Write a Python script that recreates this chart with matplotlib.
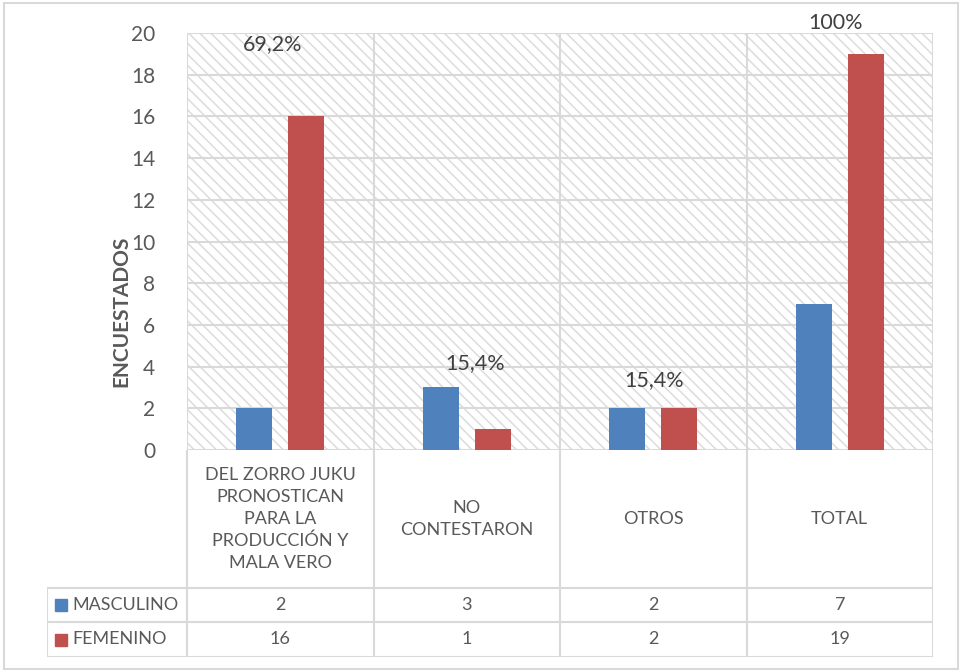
import matplotlib
matplotlib.use("Agg")
import matplotlib.pyplot as plt
from matplotlib.patches import Rectangle
from matplotlib.lines import Line2D

categories = ["DEL ZORRO JUKU\nPRONOSTICAN\nPARA LA\nPRODUCCIÓN Y\nMALA VERO",
              "NO\nCONTESTARON", "OTROS", "TOTAL"]
series_names = ["MASCULINO", "FEMENINO"]
masculino = [2, 3, 2, 7]
femenino = [16, 1, 2, 19]
pct_labels = ["69,2%", "15,4%", "15,4%", "100%"]
pct_y = [19.45, 4.15, 3.36, 20.5]
pct_dx = [-0.04, 0.044, 0.005, -0.02]
yticks = [0, 2, 4, 6, 8, 10, 12, 14, 16, 18, 20]

BLUE = "#4F81BD"
RED = "#C0504D"
GRID = "#D9D9D9"
TXT = "#595959"
FONT = ["Lato", "DejaVu Sans"]
plt.rcParams['font.family'] = FONT
plt.rcParams['hatch.linewidth'] = 1.1

W, H = 963, 671
fig = plt.figure(figsize=(W / 100, H / 100), dpi=100)

def fx(px):
    return px / W

def fy(py):
    return 1 - py / H

# outer border
fig.add_artist(Rectangle((fx(4), fy(669)), fx(958) - fx(4), fy(3) - fy(669),
                         transform=fig.transFigure, fill=False, edgecolor=GRID, lw=1.5))

L, R, T, B = 187, 933, 33, 450
ax = fig.add_axes([fx(L), fy(B), fx(R) - fx(L), fy(T) - fy(B)])
ax.set_xlim(0, 4)
ax.set_ylim(0, 20)
bg = Rectangle((0, 0), 1, 1, transform=ax.transAxes, facecolor="white",
               edgecolor="#DCDCDC", hatch="\\\\\\", lw=0, zorder=0)
ax.add_patch(bg)
for yv in yticks:
    ax.axhline(yv, color=GRID, lw=1.5, zorder=1)
for xv in range(0, 5):
    ax.axvline(xv, color=GRID, lw=1.5, zorder=1)

n = len(categories)
xs = [i + 0.5 for i in range(n)]
bw = 0.193
off = 0.139
ax.bar([x - off for x in xs], masculino, width=bw, color=BLUE, zorder=3)
ax.bar([x + off for x in xs], femenino, width=bw, color=RED, zorder=3)

for x, lab, yv, dx in zip(xs, pct_labels, pct_y, pct_dx):
    ax.text(x + dx, yv, lab, ha="center", va="center", fontsize=15.5,
            color="#404040", zorder=4, clip_on=False)

for s in ax.spines.values():
    s.set_visible(False)
ax.set_xticks([])
ax.set_yticks(yticks)
ax.set_yticklabels([str(v) for v in yticks], fontsize=15, color=TXT)
ax.tick_params(axis="y", length=0, pad=23)

fig.text(fx(121), fy(311), "ENCUESTADOS", rotation=90, ha="center", va="center",
         fontsize=15, fontweight="bold", color=TXT)

# data table below the chart
TL, TB = 47, 657
tab = fig.add_axes([fx(TL), fy(TB), fx(R) - fx(TL), fy(B) - fy(TB)])
x0 = -(L - TL) / ((R - L) / 4)
tab.set_xlim(x0, 4)
tab.set_ylim(TB - B, 0)
tab.axis("off")
r1, r2, r3 = 588 - B, 622 - B, TB - B
lk = dict(color=GRID, lw=1.5, solid_capstyle="projecting")
tab.add_line(Line2D([x0, 4], [r1, r1], **lk))
tab.add_line(Line2D([x0, 4], [r2, r2], **lk))
tab.add_line(Line2D([x0, 4], [r3, r3], **lk))
tab.add_line(Line2D([x0, x0], [r1, r3], **lk))
for xv in range(0, 5):
    tab.add_line(Line2D([xv, xv], [0, r3], **lk))

for x, cat in zip(xs, categories):
    tab.text(x, r1 / 2, cat, ha="center", va="center", fontsize=13, color=TXT,
             linespacing=1.45)

rows = [masculino, femenino]
colors = [BLUE, RED]
centers = [(r1 + r2) / 2, (r2 + r3) / 2]
for name, vals, col, yc in zip(series_names, rows, colors, centers):
    tab.plot([x0 + 0.075], [yc], marker="s", ms=8.5, color=col, ls="none")
    tab.text(x0 + 0.135, yc, name, ha="left", va="center", fontsize=13, color=TXT)
    for x, v in zip(xs, vals):
        tab.text(x, yc, str(v), ha="center", va="center", fontsize=13, color=TXT)

fig.savefig("out.png", dpi=100)
